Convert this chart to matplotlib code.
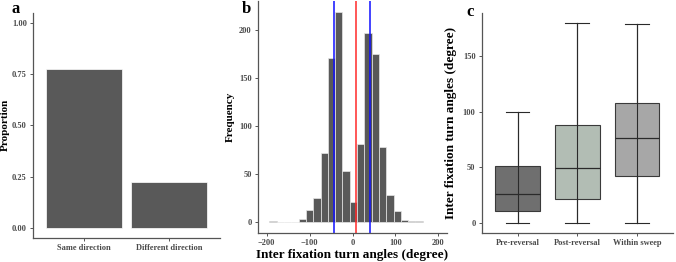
import matplotlib
matplotlib.use("Agg")
import matplotlib.pyplot as plt
import numpy as np

plt.rcParams['font.family'] = ['Liberation Serif', 'DejaVu Serif']

# Panel a data
dir_categories = ["Same direction", "Different direction"]
dir_proportion = [0.775, 0.225]

# Panel b data (histogram bins)
bin_centers = [-185, -168, -151, -134, -117, -100, -83, -66, -49, -32, -15,
               2, 19, 36, 53, 70, 87, 104, 121, 138, 155]
bin_counts = [1, 0, 0, 0, 4, 13, 25, 72, 171, 219, 54,
              21, 82, 197, 175, 79, 29, 12, 3, 2, 1]
bin_width = 17
blue_lines = [-42, 41]
red_line = 8

# Panel c data (box stats)
box_categories = ["Pre-reversal", "Post-reversal", "Within sweep"]
box_whislo = [0, 0, 0]
box_q1 = [11, 22, 42]
box_med = [26, 49, 76]
box_q3 = [51, 88, 108]
box_whishi = [100, 180, 179]
box_colors = ["#6f6f6f", "#b2bdb4", "#a7a7a7"]

fig = plt.figure(figsize=(6.76, 2.62), dpi=100)

spine_col = "#555555"
tick_col = "#555555"
tick_fs = 6

def style(ax):
    for s in ["top", "right"]:
        ax.spines[s].set_visible(False)
    for s in ["left", "bottom"]:
        ax.spines[s].set_color(spine_col)
        ax.spines[s].set_linewidth(0.9)
    ax.tick_params(axis="both", colors=tick_col, labelcolor="#4a4a4a",
                   labelsize=tick_fs, length=2.5, width=0.7, pad=2)
    plt.setp(ax.get_xticklabels(), fontweight="bold")
    plt.setp(ax.get_yticklabels(), fontweight="bold")

# Panel a
axa = fig.add_axes([0.0488, 0.0916, 0.2766, 0.86])
xa = np.arange(1, len(dir_categories) + 1)
axa.bar(xa, dir_proportion, width=0.9, color="#595959", edgecolor="white", linewidth=0.5)
axa.set_xlim(0.4, 2.6)
axa.set_ylim(-0.05, 1.05)
axa.set_yticks([0, 0.25, 0.5, 0.75, 1.0])
axa.set_yticklabels(["0.00", "0.25", "0.50", "0.75", "1.00"])
axa.set_xticks(xa)
axa.set_xticklabels(dir_categories)
axa.set_ylabel("Proportion", fontsize=8, fontweight="bold")
axa.yaxis.set_label_coords(-0.125, 0.5)
style(axa)
fig.text(0.017, 0.995, "a", fontsize=12, fontweight="bold", va="top")

# Panel b
axb = fig.add_axes([0.3817, 0.1107, 0.2796, 0.884])
axb.bar(bin_centers, bin_counts, width=bin_width, color="#595959",
        edgecolor="#e6e6e6", linewidth=0.5)
for v in blue_lines:
    axb.axvline(v, color="#1010ff", linewidth=1.1)
axb.axvline(red_line, color="#ff2a2a", linewidth=1.1)
axb.set_xlim(-220, 220)
axb.set_ylim(-11, 230)
axb.set_xticks([-200, -100, 0, 100, 200])
axb.set_yticks([0, 50, 100, 150, 200])
axb.set_ylabel("Frequency", fontsize=8, fontweight="bold", labelpad=3)
axb.set_xlabel("Inter fixation turn angles (degree)", fontsize=9.5, fontweight="bold", labelpad=1)
style(axb)
fig.text(0.358, 0.995, "b", fontsize=12, fontweight="bold", va="top")

# Panel c
axc = fig.add_axes([0.7126, 0.1107, 0.2825, 0.8408])
stats = []
for i in range(len(box_categories)):
    stats.append(dict(whislo=box_whislo[i], q1=box_q1[i], med=box_med[i],
                      q3=box_q3[i], whishi=box_whishi[i], fliers=[]))
xc = np.arange(1, len(box_categories) + 1)
bp = axc.bxp(stats, positions=xc, widths=0.75, patch_artist=True,
             showfliers=False,
             boxprops=dict(edgecolor="#3a3a3a", linewidth=0.8),
             medianprops=dict(color="#2a2a2a", linewidth=0.9),
             whiskerprops=dict(color="#2a2a2a", linewidth=0.8),
             capprops=dict(color="#2a2a2a", linewidth=0.8),
             capwidths=0.4, zorder=2)
for patch, col in zip(bp["boxes"], box_colors):
    patch.set_facecolor(col)
for i, x in enumerate(xc):
    axc.plot([x, x], [box_whislo[i], box_whishi[i]], color="#2a2a2a", linewidth=0.8, zorder=3)
axc.set_xlim(0.4, 3.6)
axc.set_ylim(-9, 189)
axc.set_yticks([0, 50, 100, 150])
axc.set_xticks(xc)
axc.set_xticklabels(box_categories)
axc.set_ylabel("Inter fixation turn angles (degree)", fontsize=9.5, fontweight="bold", labelpad=4)
style(axc)
fig.text(0.69, 0.985, "c", fontsize=12, fontweight="bold", va="top")

fig.savefig("out.png", dpi=100)
